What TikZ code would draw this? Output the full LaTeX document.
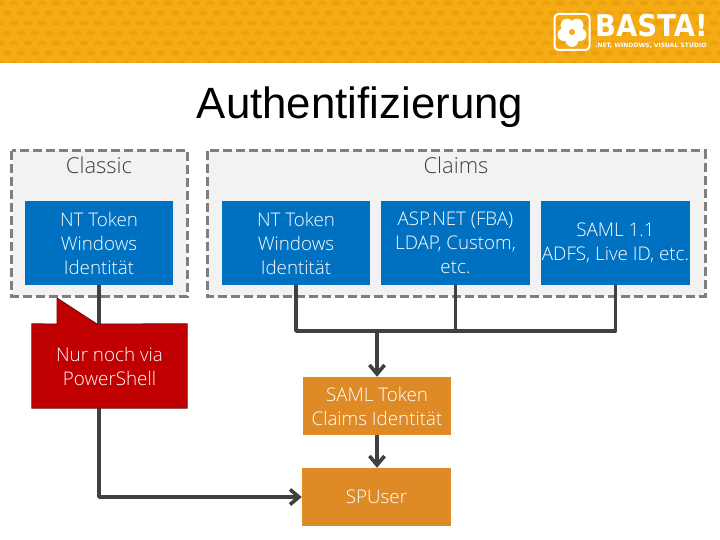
\documentclass[tikz,border=0pt]{standalone}
\usepackage{fontspec}
\setmainfont{Open Sans}[UprightFont={* Light}]
\newfontfamily\titlefont{Liberation Sans}
\newfontfamily\logofont{DejaVu Sans}
\usetikzlibrary{arrows.meta}
\definecolor{band}{HTML}{F5AC14}
\definecolor{banddot}{HTML}{EBA00E}
\definecolor{panel}{HTML}{F2F2F2}
\definecolor{dashc}{HTML}{7F7F7F}
\definecolor{linec}{HTML}{404040}
\definecolor{bluec}{HTML}{0070C0}
\definecolor{orangec}{HTML}{DE8A27}
\definecolor{redc}{HTML}{C00000}
\definecolor{redb}{HTML}{6E0A0A}
\tikzset{
  panelbox/.style={draw=dashc,fill=panel,line width=3pt,dash pattern=on 9pt off 4pt},
  bluebox/.style={fill=bluec,text=white,minimum width=149pt,minimum height=84pt,inner sep=0pt,align=center,font=\fontsize{18.8}{24}\selectfont},
  orangebox/.style={fill=orangec,text=white,minimum width=149pt,inner sep=0pt,align=center,font=\fontsize{18.8}{24}\selectfont},
  heading/.style={text=linec,font=\fontsize{22}{24}\selectfont,inner sep=0pt},
  conn/.style={draw=linec,line width=3.4pt,line join=round},
  arrowconn/.style={conn,-{Straight Barb[length=9pt,width=15pt,line width=3.6pt]}},
}
\begin{document}
\begin{tikzpicture}[x=1pt,y=-1pt]
\useasboundingbox (0,0) rectangle (720,540);
\fill[white] (0,0) rectangle (720,540);
% header band
\fill[band] (0,0) rectangle (720,63);
\begin{scope}
\clip (0,0) rectangle (720,63);
\foreach \r in {0,...,6}{
  \foreach \c in {0,...,52}{
    \fill[banddot] ({\c*14+mod(\r,2)*7},{\r*10+3}) ellipse (4.5pt and 2.5pt);
  }
}
\end{scope}
% logo
\node (logoicon) [draw=white,line width=2pt,rounded corners=4pt,minimum width=35pt,minimum height=36pt,inner sep=0pt] at (572,32) {};
\foreach \a in {18,90,162,234,306}{
  \fill[white] (572,32) ++(\a:8.5) circle (6.4pt);
}
\fill[band] (572,32) circle (3pt);
\node (logotext) [anchor=west,text=white,inner sep=0pt,font=\logofont\bfseries\fontsize{25}{25}\selectfont,xscale=1.1,yscale=1.2] at (595,26) {BASTA!};
\node (logosub) [anchor=west,text=white,inner sep=0pt,font=\logofont\bfseries\fontsize{6.05}{7}\selectfont] at (595,46) {.NET, WINDOWS, VISUAL STUDIO};
% title
\node (title) [text=black,inner sep=0pt,font=\titlefont\fontsize{43.8}{46}\selectfont] at (360,107) {Authentifizierung};
% panels
\path[panelbox] (11.5,151) rectangle (187,296);
\path[panelbox] (207,151) rectangle (705,296);
\node (hclassic) [heading] at (99,165) {Classic};
\node (hclaims) [heading] at (456,165) {Claims};
% boxes
\node (classic) [bluebox,minimum width=148pt] at (99,243) {NT Token\\Windows\\Identität};
\node (nt) [bluebox,minimum width=148pt] at (296,243) {NT Token\\Windows\\Identität};
\node (asp) [bluebox] at (455.5,243) {ASP.NET (FBA)\\LDAP, Custom,\\etc.};
\node (saml) [bluebox] at (615.5,243) {SAML 1.1\\ADFS, Live ID, etc.};
\node (token) [orangebox,minimum height=58pt,minimum width=148pt] at (377,406) {SAML Token\\Claims Identität};
\node (spuser) [orangebox,minimum height=58pt] at (376.5,497) {SPUser};
% connectors
\draw[conn] (nt.south) |- (saml.south |- 0,331) -- (saml.south);
\draw[conn] (asp.south) -- (asp.south |- 0,331);
\draw[arrowconn] (token.north |- 0,331) -- (token.north);
\draw[arrowconn] (token.south) -- (token.south |- spuser.north);
\draw[arrowconn] (classic.south) |- (spuser.west);
% callout
\node (note) [minimum width=155pt,minimum height=84pt,inner sep=0pt] at (109.5,366) {};
\draw[draw=redb,fill=redc,line width=0.8pt,line join=miter]
  (note.north west) -- (57,324) -- (57,298) -- (97,324) -- (note.north east) -- (note.south east) -- (note.south west) -- cycle;
\node (notetext) [text=white,align=center,inner sep=0pt,font=\fontsize{18.8}{24}\selectfont] at (note.center) {Nur noch via\\PowerShell};
\end{tikzpicture}
\end{document}
